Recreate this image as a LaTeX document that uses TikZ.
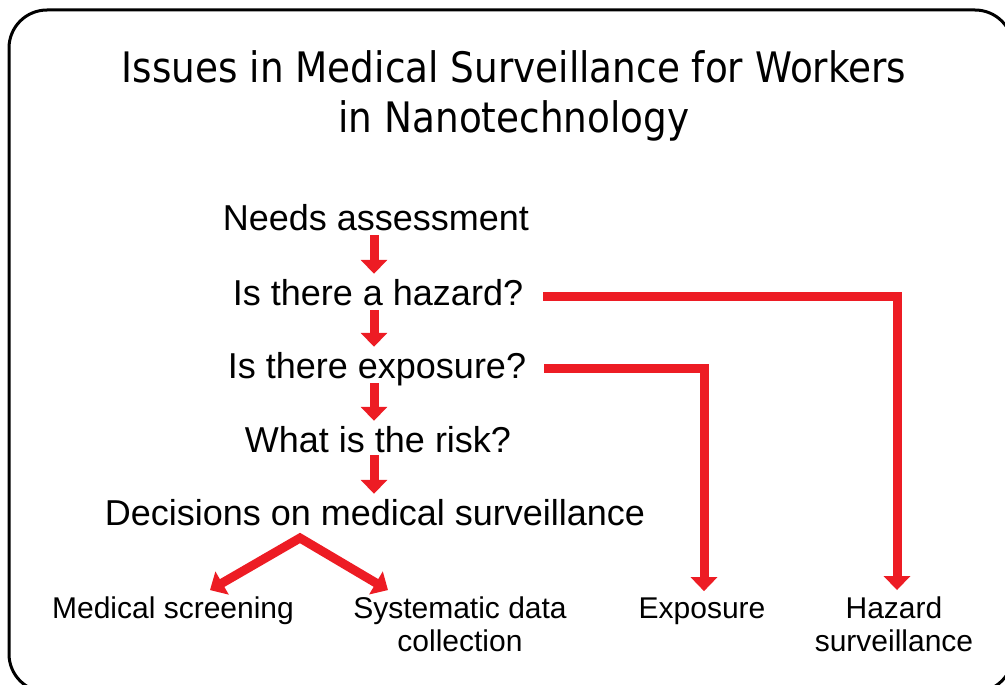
\documentclass[tikz,border=0pt]{standalone}
\usepackage{fontspec}
\setmainfont{Liberation Sans}
\newfontfamily\titlefont{DejaVu Sans}
\usetikzlibrary{arrows.meta}
\definecolor{arrowred}{RGB}{237,28,36}
\begin{document}
\begin{tikzpicture}[x=1pt,y=-1pt,
  flow/.style={line width=9pt, draw=arrowred, line join=miter,
    -{Triangle[width=26pt,length=14pt]}},
  flowboth/.style={line width=9pt, draw=arrowred, line join=miter,
    {Triangle[width=26pt,length=14pt]}-{Triangle[width=26pt,length=14pt]}},
  stepnode/.style={font=\fontsize{36}{42}\selectfont, inner sep=0pt, anchor=base,
    text height=26pt, text depth=0pt},
  leaf/.style={font=\fontsize{30}{33}\selectfont, inner sep=0pt, anchor=base, align=center},
  titletext/.style={font=\titlefont\fontsize{42}{50}\selectfont, inner sep=0pt, anchor=base},
  frame/.style={line width=3pt, rounded corners=38pt}]
\useasboundingbox (0,0) rectangle (1005,685);
\draw[frame] (9,10) rectangle (1013,692);

\node[titletext] (title1) at (514,83) {\scalebox{0.89}[1]{Issues in Medical Surveillance for Workers}};
\node[titletext] (title2) at (514,132) {\scalebox{0.89}[1]{in Nanotechnology}};

\node[stepnode] (na) at (376,230) {Needs assessment};
\node[stepnode] (hz) at (378,305) {Is there a hazard?};
\node[stepnode] (ex) at (377,378) {Is there exposure?};
\node[stepnode] (rk) at (378,452) {What is the risk?};
\node[stepnode] (dc) at (375,525) {Decisions on medical surveillance};

\node[leaf] (ms) at (173,618) {Medical screening};
\node[leaf] (sd) at (460,651) {Systematic data\\collection};
\node[leaf] (eo) at (702,618) {Exposure};
\node[leaf] (hs) at (894,651) {Hazard\\surveillance};

\coordinate (ax) at (374,0);
\draw[flow] ([yshift=-5pt]na.south -| ax) -- ([yshift=5pt]hz.north -| ax);
\draw[flow] ([yshift=-5pt]hz.south -| ax) -- ([yshift=5pt]ex.north -| ax);
\draw[flow] ([yshift=-5pt]ex.south -| ax) -- ([yshift=5pt]rk.north -| ax);
\draw[flow] ([yshift=-3pt]rk.south -| ax) -- ([yshift=5pt]dc.north -| ax);

\draw[flow] ([xshift=20pt,yshift=-4pt]hz.east) -| ([xshift=3pt,yshift=6pt]hs.north);
\draw[flow] ([xshift=18pt,yshift=-3pt]ex.east) -| ([xshift=2pt,yshift=6pt]eo.north);

\coordinate (apex) at (300,538);
\draw[flowboth] ([xshift=37pt,yshift=6pt]ms.north) -- (apex) -- ([xshift=-72pt,yshift=6pt]sd.north);
\end{tikzpicture}
\end{document}
